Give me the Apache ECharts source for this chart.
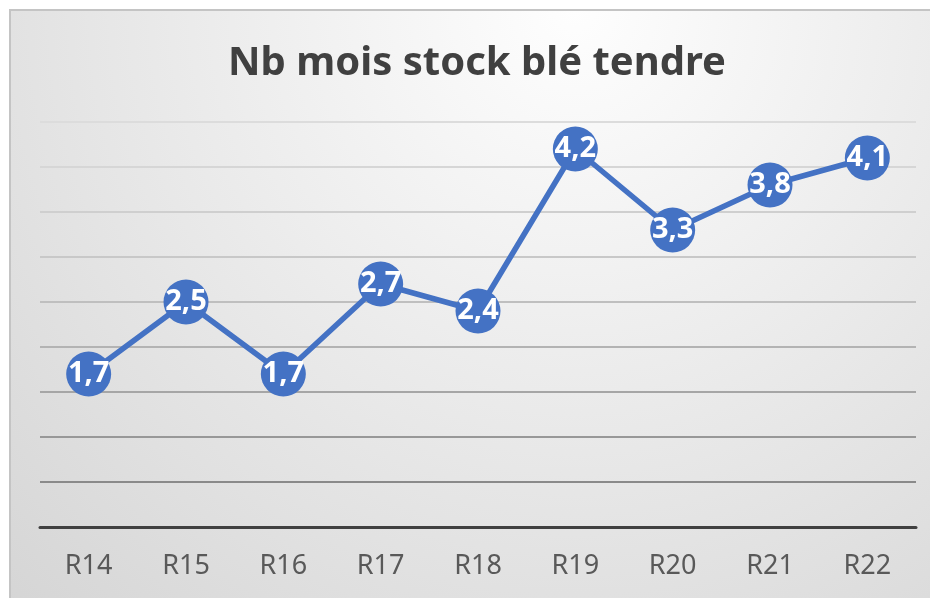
<!DOCTYPE html>
<html>
<head>
<meta charset="utf-8">
<script src="https://cdn.jsdelivr.net/npm/echarts@6/dist/echarts.min.js"></script>
<style>
    html, body { margin: 0; padding: 0; background: #ffffff; }
    #stockChart { width: 930px; height: 598px; }
</style>
</head>
<body>
<div id="stockChart"></div>
<script>
    // données
    var categories = ['R14', 'R15', 'R16', 'R17', 'R18', 'R19', 'R20', 'R21', 'R22'];
    var moisStock = [1.7, 2.5, 1.7, 2.7, 2.4, 4.2, 3.3, 3.8, 4.1];
    var titre = 'Nb mois stock blé tendre';

    var myChart = echarts.init(document.getElementById('stockChart'));

    var option = {
        animation: false,
        graphic: [
            {
                // fond dégradé + bordure du cadre
                type: 'rect',
                z: -10,
                shape: {x: 10, y: 10, width: 940, height: 610},
                style: {
                    fill: new echarts.graphic.RadialGradient(0.6, 0, 1.35, [
                        {offset: 0, color: '#fefefe'},
                        {offset: 1, color: '#d5d5d5'}
                    ]),
                    stroke: '#c4c4c4',
                    lineWidth: 2
                }
            }
        ],
        title: {
            text: titre,
            left: 477,
            textAlign: 'center',
            top: 44,
            padding: 0,
            textStyle: {
                fontFamily: 'Noto Sans',
                fontSize: 40,
                fontWeight: 'bold',
                color: '#404040'
            }
        },
        grid: {
            left: 40,
            right: 14,
            top: 122,
            bottom: 71
        },
        xAxis: {
            type: 'category',
            data: categories,
            boundaryGap: true,
            axisTick: {show: false},
            axisLine: {
                lineStyle: {color: '#404040', width: 3}
            },
            axisLabel: {
                margin: 26,
                fontFamily: 'Noto Sans',
                fontSize: 27,
                color: '#595959'
            }
        },
        yAxis: {
            type: 'value',
            min: 0,
            max: 4.5,
            interval: 0.5,
            axisLabel: {show: false},
            axisLine: {show: false},
            axisTick: {show: false},
            splitLine: {
                show: true,
                lineStyle: {
                    // lignes plus sombres en bas, plus claires en haut
                    color: ['#404040', '#8a8a8a', '#989898', '#a6a6a6', '#b3b3b3',
                        '#bfbfbf', '#c8c8c8', '#cfcfcf', '#d6d6d6', '#dcdcdc'],
                    width: 2
                }
            }
        },
        series: [
            {
                type: 'line',
                data: moisStock,
                symbol: 'circle',
                symbolSize: 45,
                itemStyle: {color: '#4472C4'},
                lineStyle: {color: '#4472C4', width: 5.5},
                label: {
                    show: true,
                    position: 'inside',
                    fontFamily: 'Noto Sans',
                    fontSize: 29,
                    fontWeight: 'bold',
                    color: '#ffffff',
                    formatter: function (p) {
                        return String(p.value).replace('.', ',');
                    }
                }
            }
        ]
    };

    myChart.setOption(option);
</script>
</body>
</html>
